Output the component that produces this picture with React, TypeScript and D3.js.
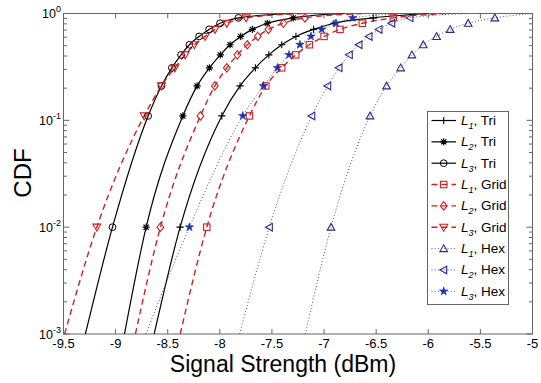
import React from "react";
import * as d3 from "d3";

// CDF levels at which each curve is sampled (markers sit on 0.01 ... 0.91)
const cdfLevels = [0.001, 0.01, 0.11, 0.21, 0.31, 0.41, 0.51, 0.61, 0.71, 0.81, 0.91, 1.0];

// Signal strength (dBm) reached at each CDF level
const l1Tri = [-8.63, -8.381, -7.981, -7.806, -7.659, -7.53, -7.406, -7.27, -7.1, -6.905, -6.528, -6.0];
const l2Tri = [-8.915, -8.707, -8.355, -8.218, -8.1, -7.995, -7.902, -7.8, -7.688, -7.544, -7.295, -6.8];
const l3Tri = [-9.29, -9.03, -8.688, -8.56, -8.46, -8.372, -8.292, -8.199, -8.103, -7.998, -7.822, -7.3];
const l1Grid = [-8.38, -8.125, -7.716, -7.559, -7.406, -7.272, -7.141, -7.0, -6.847, -6.633, -6.336, -5.8];
const l2Grid = [-8.81, -8.57, -8.186, -8.048, -7.933, -7.832, -7.736, -7.636, -7.534, -7.39, -7.183, -6.6];
const l3Grid = [-9.49, -9.18, -8.726, -8.56, -8.432, -8.333, -8.244, -8.141, -8.046, -7.933, -7.748, -7.2];
const l1Hex = [-7.18, -6.933, -6.559, -6.4, -6.265, -6.157, -6.048, -5.92, -5.79, -5.617, -5.361, -5.0];
const l2Hex = [-7.81, -7.525, -7.118, -6.965, -6.857, -6.758, -6.665, -6.569, -6.473, -6.351, -6.176, -5.6];
const l3Hex = [-8.71, -8.292, -7.78, -7.582, -7.448, -7.336, -7.231, -7.125, -7.022, -6.885, -6.725, -6.2];

const seriesIndex = ["1", "2", "3", "1", "2", "3", "1", "2", "3"];
const seriesLayout = ["Tri", "Tri", "Tri", "Grid", "Grid", "Grid", "Hex", "Hex", "Hex"];
const seriesMarker = ["plus", "asterisk", "circle", "square", "diamond", "triDown", "triUp", "triLeft", "star"];
const seriesValues = [l1Tri, l2Tri, l3Tri, l1Grid, l2Grid, l3Grid, l1Hex, l2Hex, l3Hex];

const xTicks = [-9.5, -9, -8.5, -8, -7.5, -7, -6.5, -6, -5.5, -5];
const xTickLabels = ["-9.5", "-9", "-8.5", "-8", "-7.5", "-7", "-6.5", "-6", "-5.5", "-5"];
const yExponents = [-3, -2, -1, 0];

const W = 541;
const H = 383;
const left = 63.5;
const right = 532.5;
const top = 13.5;
const bottom = 334;

const x = d3.scaleLinear().domain([-9.5, -5]).range([left, right]);
const y = d3.scaleLog().domain([1e-3, 1]).range([bottom, top]);

const RED = "#cc2222";
const NAVY = "#2a2a8a";
const BLUE = "#2030b0";
const AXIS = "#666";
const FONT = "'Liberation Sans', Arial, Helvetica, sans-serif";

const styleFor = (layout: string) => {
  if (layout === "Tri") return { stroke: "#000", dash: undefined as string | undefined, width: 1.2 };
  if (layout === "Grid") return { stroke: RED, dash: "6,4", width: 1.4 };
  return { stroke: "#555", dash: "1,2.2", width: 1 };
};

function Marker({ type, cx, cy }: { type: string; cx: number; cy: number }) {
  const s = 3.6;
  switch (type) {
    case "plus":
      return (
        <path d={`M${cx - s},${cy}H${cx + s}M${cx},${cy - s}V${cy + s}`} stroke="#000" strokeWidth={1.1} fill="none" />
      );
    case "asterisk": {
      const d = s * 0.72;
      return (
        <path
          d={`M${cx - s},${cy}H${cx + s}M${cx},${cy - s}V${cy + s}M${cx - d},${cy - d}L${cx + d},${cy + d}M${cx - d},${cy + d}L${cx + d},${cy - d}`}
          stroke="#000"
          strokeWidth={1.1}
          fill="none"
        />
      );
    }
    case "circle":
      return <circle cx={cx} cy={cy} r={3.4} stroke="#000" strokeWidth={1} fill="none" />;
    case "square":
      return <rect x={cx - 3.2} y={cy - 3.2} width={6.4} height={6.4} stroke={RED} strokeWidth={1.1} fill="none" />;
    case "diamond":
      return (
        <path d={`M${cx},${cy - 4.2}L${cx + 3.4},${cy}L${cx},${cy + 4.2}L${cx - 3.4},${cy}Z`} stroke={RED} strokeWidth={1.1} fill="none" />
      );
    case "triDown":
      return (
        <path d={`M${cx - 4},${cy - 3}L${cx + 4},${cy - 3}L${cx},${cy + 4}Z`} stroke={RED} strokeWidth={1.1} fill="none" />
      );
    case "triUp":
      return (
        <path d={`M${cx - 3.8},${cy + 3}L${cx + 3.8},${cy + 3}L${cx},${cy - 3.8}Z`} stroke={NAVY} strokeWidth={1.1} fill="none" />
      );
    case "triLeft":
      return (
        <path d={`M${cx + 3},${cy - 3.8}L${cx + 3},${cy + 3.8}L${cx - 3.8},${cy}Z`} stroke={NAVY} strokeWidth={1.1} fill="none" />
      );
    case "star": {
      const p = d3.symbol(d3.symbolStar, 22)() as string;
      return <path d={p} transform={`translate(${cx},${cy})`} fill={BLUE} stroke={BLUE} strokeWidth={0.6} />;
    }
    default:
      return null;
  }
}

export default function App() {
  const line = d3
    .line<[number, number]>()
    .x((d) => x(d[0]))
    .y((d) => y(d[1]))
    .curve(d3.curveMonotoneX);

  const minorTicks: number[] = [];
  for (let e = -3; e < 0; e++) {
    for (let m = 2; m <= 9; m++) minorTicks.push(m * Math.pow(10, e));
  }

  const legendX0 = 427.5;
  const legendY0 = 111.5;
  const legendW = 81;
  const legendH = 193;
  const rowStep = 21.35;
  const rowY0 = 120.5;

  return (
    <svg width={W} height={H} style={{ position: "absolute", left: 0, top: 0, background: "#fff" }} fontFamily={FONT}>
      <defs>
        <clipPath id="plotArea">
          <rect x={left} y={top} width={right - left} height={bottom - top} />
        </clipPath>
      </defs>
      <rect x={0} y={0} width={W} height={H} fill="#fff" />

      {/* frame */}
      <rect x={left} y={top} width={right - left} height={bottom - top} fill="none" stroke={AXIS} strokeWidth={1} />

      {/* x ticks (inward, bottom and top) */}
      {xTicks.map((t, i) => (
        <g key={"xt" + i}>
          <line x1={x(t)} x2={x(t)} y1={bottom} y2={bottom - 5} stroke={AXIS} />
          <line x1={x(t)} x2={x(t)} y1={top} y2={top + 5} stroke={AXIS} />
          <text x={x(t)} y={348} fontSize={13} textAnchor="middle" fill="#000">
            {xTickLabels[i]}
          </text>
        </g>
      ))}

      {/* y ticks (log, inward on both sides) */}
      {yExponents.map((e) => {
        const yy = y(Math.pow(10, e));
        return (
          <g key={"ye" + e}>
            <line x1={left} x2={left + 6} y1={yy} y2={yy} stroke={AXIS} />
            <line x1={right} x2={right - 6} y1={yy} y2={yy} stroke={AXIS} />
            <text x={61} y={yy + 4.5} fontSize={12.5} textAnchor="end" fill="#000">
              10
              <tspan fontSize={9} dy={-6}>
                {String(e)}
              </tspan>
            </text>
          </g>
        );
      })}
      {minorTicks.map((v, i) => (
        <g key={"ym" + i}>
          <line x1={left} x2={left + 3.5} y1={y(v)} y2={y(v)} stroke={AXIS} />
          <line x1={right} x2={right - 3.5} y1={y(v)} y2={y(v)} stroke={AXIS} />
        </g>
      ))}

      {/* curves */}
      <g clipPath="url(#plotArea)">
        {seriesValues.map((vals, si) => {
          const st = styleFor(seriesLayout[si]);
          const pts = vals.map((v, k) => [v, cdfLevels[k]] as [number, number]);
          return (
            <path
              key={"c" + si}
              d={line(pts) as string}
              fill="none"
              stroke={st.stroke}
              strokeWidth={st.width}
              strokeDasharray={st.dash}
            />
          );
        })}
        {seriesValues.map((vals, si) => (
          <g key={"m" + si}>
            {vals.map((v, k) =>
              k >= 1 && k <= 10 ? (
                <Marker key={k} type={seriesMarker[si]} cx={x(v)} cy={y(cdfLevels[k])} />
              ) : null
            )}
          </g>
        ))}
      </g>

      {/* axis titles */}
      <text x={283} y={372} fontSize={23} textAnchor="middle" fill="#000">
        Signal Strength (dBm)
      </text>
      <text transform={`translate(31,173) rotate(-90)`} fontSize={24} textAnchor="middle" fill="#000">
        CDF
      </text>

      {/* legend */}
      <rect x={legendX0} y={legendY0} width={legendW} height={legendH} fill="#fff" stroke={AXIS} strokeWidth={1} />
      {seriesValues.map((_, si) => {
        const ry = rowY0 + si * rowStep;
        const st = styleFor(seriesLayout[si]);
        return (
          <g key={"lg" + si}>
            <line x1={431.5} x2={456} y1={ry} y2={ry} stroke={st.stroke} strokeWidth={st.width} strokeDasharray={st.dash} />
            <Marker type={seriesMarker[si]} cx={443.7} cy={ry} />
            <text x={461} y={ry + 4.5} fontSize={13.5} fill="#000">
              <tspan fontStyle="italic">L</tspan>
              <tspan fontStyle="italic" fontSize={9} dy={4}>
                {seriesIndex[si]}
              </tspan>
              <tspan dy={-4}>{", " + seriesLayout[si]}</tspan>
            </text>
          </g>
        );
      })}
    </svg>
  );
}
